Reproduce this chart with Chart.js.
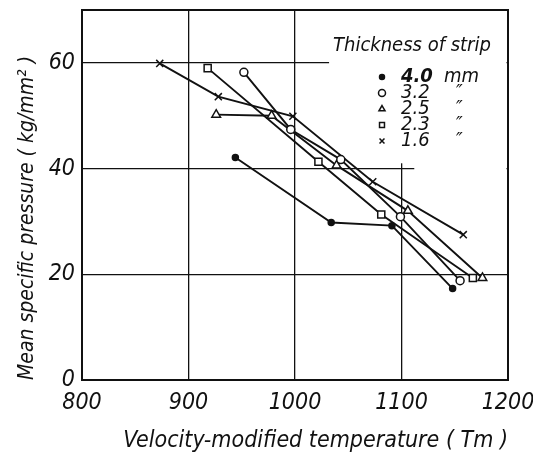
<!DOCTYPE html>
<html>
<head>
<meta charset="utf-8">
<script src="https://cdn.jsdelivr.net/npm/chart.js@4"></script>
<style>
  html, body { margin: 0; padding: 0; background: #fff; }
  #wrap { width: 533px; height: 463px; }
</style>
</head>
<body>
<div id="wrap"><canvas id="chart"></canvas></div>
<script>
// strip thickness (mm) and the unit column of the key
const thickness = ['4.0', '3.2', '2.5', '2.3', '1.6']
const units = ['mm', '″', '″', '″', '″']

// axis ticks
const tempTicks = [800, 900, 1000, 1100, 1200]
const pressureTicks = [0, 20, 40, 60]

// velocity-modified temperature Tm / mean specific pressure kg/mm2
const temp40 = [944, 1034, 1091, 1148]
const press40 = [42.1, 29.8, 29.2, 17.3]

const temp32 = [952, 996, 1043, 1099, 1155]
const press32 = [58.2, 47.4, 41.7, 30.9, 18.8]

const temp25 = [926, 978, 1039, 1106, 1176]
const press25 = [50.2, 50.0, 40.6, 32.0, 19.3]

const temp23 = [918, 1022, 1081, 1167]
const press23 = [59.0, 41.3, 31.3, 19.3]

const temp16 = [873, 928, 998, 1073, 1158]
const press16 = [59.9, 53.6, 49.9, 37.5, 27.5]

const HAND = "'Liberation Sans Narrow', 'DejaVu Sans Condensed', sans-serif"
const INK = '#111'

function points(xs, ys) {
	return xs.map((x, i) => ({x: x, y: ys[i]}))
}

function series(xs, ys, style, radius, fill) {
	return {
		data: points(xs, ys),
		showLine: true,
		borderColor: INK,
		borderWidth: 1.9,
		pointStyle: style,
		pointRadius: radius,
		pointBorderWidth: 1.5,
		pointBorderColor: INK,
		pointBackgroundColor: fill
	}
}

const datasets = [
	series(temp40, press40, 'circle', 3, INK),
	series(temp32, press32, 'circle', 4, '#fff'),
	series(temp25, press25, 'triangle', 5, '#fff'),
	series(temp23, press23, 'rect', 5, '#fff'),
	series(temp16, press16, 'crossRot', 5, '#fff')
]

// blanks the grid behind the key, closes the frame
const frame = {
	id: 'frame',
	beforeDatasetsDraw(chart) {
		const {ctx, chartArea} = chart
		const x = chart.scales.x, y = chart.scales.y
		ctx.save()
		ctx.fillStyle = '#fff'
		const l1 = x.getPixelForValue(1032), t1 = chartArea.top + 1
		ctx.fillRect(l1, t1, chartArea.right - 1.5 - l1, y.getPixelForValue(41) - t1)
		const l2 = x.getPixelForValue(1112)
		ctx.fillRect(l2, y.getPixelForValue(41), chartArea.right - 1.5 - l2, y.getPixelForValue(38) - y.getPixelForValue(41))
		ctx.strokeStyle = INK
		ctx.lineWidth = 2
		ctx.strokeRect(chartArea.left, chartArea.top, chartArea.right - chartArea.left, chartArea.bottom - chartArea.top)
		ctx.restore()
	}
}

const stripKey = {
	id: 'stripKey',
	afterDraw(chart) {
		const ctx = chart.ctx
		ctx.save()
		ctx.fillStyle = INK
		ctx.textBaseline = 'middle'
		ctx.font = `italic 20px ${HAND}`
		ctx.fillText('Thickness of strip', 333, 46)
		chart.data.datasets.forEach(function(ds, i) {
			const yy = 77 + i * 16
			ctx.fillStyle = ds.pointBackgroundColor
			ctx.strokeStyle = INK
			ctx.lineWidth = 1.5
			Chart.helpers.drawPoint(ctx, {pointStyle: ds.pointStyle, radius: i == 0 ? 2.5 : 3.5, borderWidth: 1.5, rotation: 0}, 382, yy)
			ctx.fillStyle = INK
			ctx.font = `italic ${i == 0 ? 'bold ' : ''}20px ${HAND}`
			ctx.fillText(thickness[i], 401, yy)
			ctx.font = `italic 20px ${HAND}`
			ctx.fillText(units[i], i == 0 ? 444 : 456, yy)
		})
		ctx.restore()
	}
}

const tickFont = {family: HAND, size: 23, style: 'italic'}

new Chart(document.getElementById('chart'), {
	type: 'scatter',
	data: {datasets: datasets},
	options: {
		responsive: true,
		maintainAspectRatio: false,
		animation: false,
		layout: {padding: {top: 10, right: 25, left: 0, bottom: 0}},
		plugins: {legend: {display: false}, tooltip: {enabled: false}},
		scales: {
			x: {
				type: 'linear',
				min: 800,
				max: 1200,
				afterBuildTicks: function(s) { s.ticks = tempTicks.map(v => ({value: v})) },
				afterFit: function(s) { s.height = 83; s.paddingLeft = 0; s.paddingRight = 0 },
				grid: {color: INK, lineWidth: 1.3, drawTicks: false},
				border: {color: INK, width: 2},
				ticks: {font: tickFont, color: INK, padding: 9, callback: v => String(v)},
				title: {display: true, text: 'Velocity-modified temperature ( Tm )', align: 'end', font: {family: HAND, size: 23, style: 'italic'}, color: INK, padding: {top: 0, bottom: 8}}
			},
			y: {
				type: 'linear',
				min: 0,
				max: 70,
				afterBuildTicks: function(s) { s.ticks = pressureTicks.map(v => ({value: v})) },
				afterFit: function(s) { s.width = 82; s.paddingTop = 0; s.paddingBottom = 0 },
				grid: {color: INK, lineWidth: 1.3, drawTicks: false},
				border: {color: INK, width: 2},
				ticks: {font: tickFont, color: INK, padding: 7, callback: v => String(v)},
				title: {display: true, text: 'Mean specific pressure ( kg/mm² )', align: 'start', font: {family: HAND, size: 21, style: 'italic'}, color: INK, padding: {top: 15, bottom: 0}}
			}
		}
	},
	plugins: [frame, stripKey]
})
</script>
</body>
</html>
